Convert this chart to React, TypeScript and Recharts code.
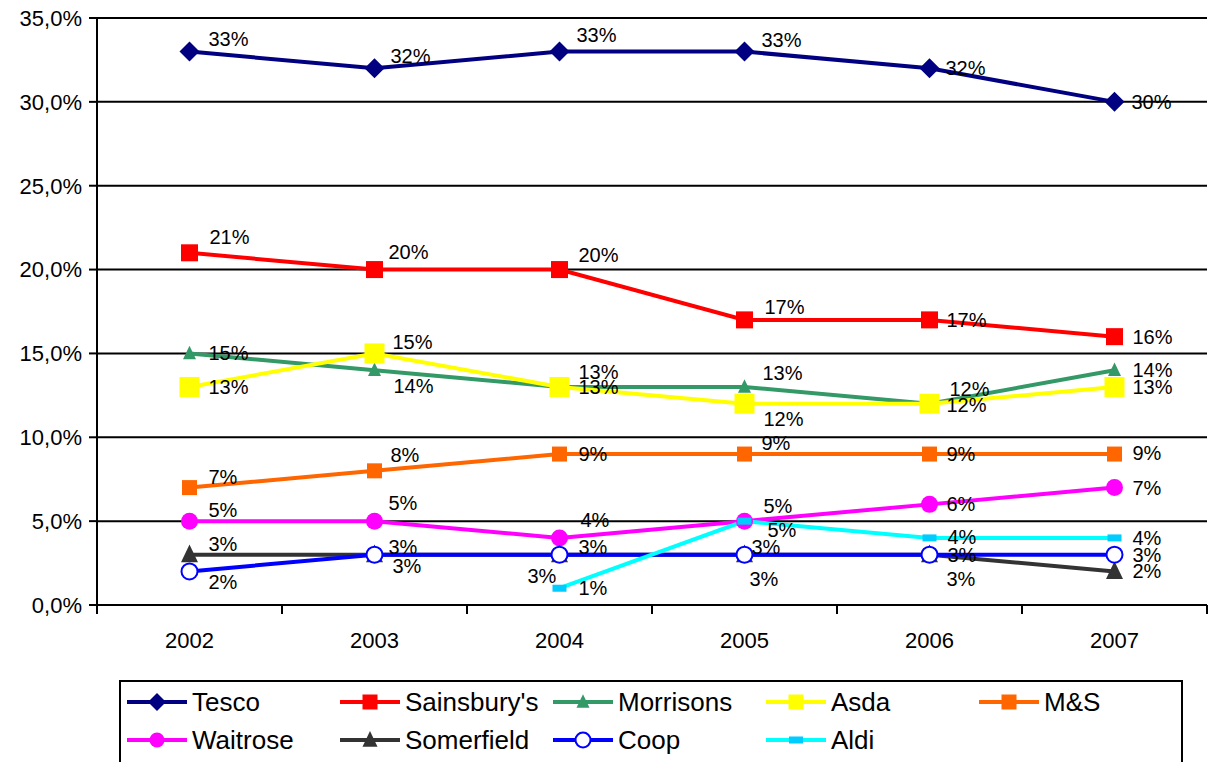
import React from "react"
import { CartesianGrid, LabelList, Line, LineChart, XAxis, YAxis } from "recharts"

const years = ["2002", "2003", "2004", "2005", "2006", "2007"]
const tesco = [33, 32, 33, 33, 32, 30]
const sainsburys = [21, 20, 20, 17, 17, 16]
const morrisons = [15, 14, 13, 13, 12, 14]
const asda = [13, 15, 13, 12, 12, 13]
const marksSpencer = [7, 8, 9, 9, 9, 9]
const waitrose = [5, 5, 4, 5, 6, 7]
const somerfield = [3, 3, 3, 3, 3, 2]
const coop = [2, 3, 3, 3, 3, 3]
const aldi = [null, null, 1, 5, 4, 4]
const yTicks = [0, 5, 10, 15, 20, 25, 30, 35]

const data = years.map((year, i) => ({
    year,
    tesco: tesco[i],
    sainsburys: sainsburys[i],
    morrisons: morrisons[i],
    asda: asda[i],
    ms: marksSpencer[i],
    waitrose: waitrose[i],
    somerfield: somerfield[i],
    coop: coop[i],
    aldi: aldi[i],
}))

type Shape = "diamond" | "square" | "triangle" | "circle" | "ring" | "dash"

interface SeriesDef {
    key: string
    name: string
    color: string
    marker: Shape
    markerColor: string
    size: number
}

const series: SeriesDef[] = [
    { key: "tesco", name: "Tesco", color: "#000080", marker: "diamond", markerColor: "#000080", size: 10 },
    { key: "sainsburys", name: "Sainsbury's", color: "#FF0000", marker: "square", markerColor: "#FF0000", size: 17 },
    { key: "morrisons", name: "Morrisons", color: "#339966", marker: "triangle", markerColor: "#339966", size: 13 },
    { key: "asda", name: "Asda", color: "#FFFF00", marker: "square", markerColor: "#FFFF00", size: 20 },
    { key: "ms", name: "M&S", color: "#FF6600", marker: "square", markerColor: "#FF6600", size: 15 },
    { key: "waitrose", name: "Waitrose", color: "#FF00FF", marker: "circle", markerColor: "#FF00FF", size: 8.5 },
    { key: "somerfield", name: "Somerfield", color: "#333333", marker: "triangle", markerColor: "#333333", size: 17 },
    { key: "coop", name: "Coop", color: "#0000FF", marker: "ring", markerColor: "#0000FF", size: 8 },
    { key: "aldi", name: "Aldi", color: "#00FFFF", marker: "dash", markerColor: "#00CCFF", size: 14 },
]

// label offsets [dx, dy] from each point, as placed in the original
const labelOffsets: Record<string, ([number, number] | null)[]> = {
    tesco: [[19, -13], [16, -12], [17, -17], [17, -12], [16, 0], [17, 0]],
    sainsburys: [[20, -16], [14, -18], [19, -15], [20, -13], [17, 0], [18, 0]],
    morrisons: [[19, 0], [19, 16], [19, -15], [18, -14], [20, -15], [18, 0]],
    asda: [[19, 0], [18, -11], [19, 0], [19, 15], [17, 1], [18, 0]],
    ms: [[19, -11], [16, -16], [19, 0], [17, -11], [17, 0], [18, -1]],
    waitrose: [[19, -11], [14, -18], [21, -18], [19, -15], [17, 0], [18, 0]],
    somerfield: [[19, -11], [18, 11], [-32, 21], [5, 24], [17, 24], [18, 0]],
    coop: [[19, 11], [14, -8], [19, -8], [7, -8], [18, 0], [18, 0]],
    aldi: [null, null, [19, 0], [23, 9], [18, -1], [18, 0]],
}

const FONT = '"Liberation Sans", Arial, sans-serif'
const PLOT_LEFT = 97
const PLOT_RIGHT = 1207
const PLOT_BOTTOM = 605
const BAND = (PLOT_RIGHT - PLOT_LEFT) / years.length

function Marker({ shape, cx, cy, color, size }: { shape: Shape; cx: number; cy: number; color: string; size: number }) {
    switch (shape) {
        case "diamond":
            return <polygon points={`${cx},${cy - size} ${cx + size},${cy} ${cx},${cy + size} ${cx - size},${cy}`} fill={color} />
        case "square":
            return <rect x={cx - size / 2} y={cy - size / 2} width={size} height={size} fill={color} />
        case "triangle":
            return <polygon points={`${cx},${cy - size * 0.6} ${cx + size * 0.5},${cy + size * 0.45} ${cx - size * 0.5},${cy + size * 0.45}`} fill={color} />
        case "circle":
            return <circle cx={cx} cy={cy} r={size} fill={color} />
        case "ring":
            return <circle cx={cx} cy={cy} r={size} fill="#fff" stroke={color} strokeWidth={2} />
        case "dash":
            return <rect x={cx - size / 2} y={cy - 3.5} width={size} height={7} fill={color} />
    }
}

function makeDot(s: SeriesDef) {
    return (props: any) => {
        const { cx, cy, value, index } = props
        if (value == null || cx == null || cy == null) return <g key={`${s.key}-dot-${index}`} />
        return (
            <g key={`${s.key}-dot-${index}`}>
                <Marker shape={s.marker} cx={cx} cy={cy} color={s.markerColor} size={s.size} />
            </g>
        )
    }
}

function makeLabel(s: SeriesDef) {
    return (props: any) => {
        const { x, y, value, index } = props
        const off = labelOffsets[s.key][index]
        if (value == null || off == null) return null
        return (
            <text
                x={x + off[0]}
                y={y + off[1]}
                dominantBaseline="central"
                fontSize={20}
                fontFamily={FONT}
                fill="#000"
            >
                {`${value}%`}
            </text>
        )
    }
}

function YearTick(props: any) {
    const { x, payload, index } = props
    const left = x - BAND / 2
    return (
        <g>
            <line x1={left} x2={left} y1={PLOT_BOTTOM} y2={PLOT_BOTTOM + 9} stroke="#000" strokeWidth={2} />
            {index === years.length - 1 && (
                <line x1={x + BAND / 2} x2={x + BAND / 2} y1={PLOT_BOTTOM} y2={PLOT_BOTTOM + 9} stroke="#000" strokeWidth={2} />
            )}
            <text x={x} y={PLOT_BOTTOM + 35} textAnchor="middle" dominantBaseline="central" fontSize={22} fontFamily={FONT} fill="#000">
                {payload.value}
            </text>
        </g>
    )
}

function LegendBox() {
    return (
        <div
            style={{
                position: "absolute",
                left: 119,
                top: 680,
                width: 1064,
                height: 100,
                border: "2px solid #000",
                background: "#fff",
                boxSizing: "border-box",
            }}
        >
            {series.map((s, i) => {
                const col = i % 5
                const row = Math.floor(i / 5)
                return (
                    <div
                        key={s.key}
                        style={{
                            position: "absolute",
                            left: 5 + col * 213,
                            top: 6 + row * 38,
                            height: 28,
                            display: "flex",
                            alignItems: "center",
                            fontFamily: FONT,
                            fontSize: 26,
                            color: "#000",
                            whiteSpace: "nowrap",
                        }}
                    >
                        <svg width={62} height={28} style={{ display: "block" }}>
                            <line x1={1} x2={61} y1={14} y2={14} stroke={s.color} strokeWidth={4} />
                            <Marker
                                shape={s.marker}
                                cx={31}
                                cy={14}
                                color={s.markerColor}
                                size={s.marker === "diamond" ? 9 : s.marker === "circle" || s.marker === "ring" ? 7.5 : Math.min(s.size, 15)}
                            />
                        </svg>
                        <span style={{ marginLeft: 4 }}>{s.name}</span>
                    </div>
                )
            })}
        </div>
    )
}

export default function App() {
    return (
        <div style={{ position: "absolute", left: 0, top: 0, width: 1212, height: 762, background: "#fff", overflow: "hidden" }}>
            <LineChart width={1212} height={680} data={data} margin={{ top: 18, right: 5, left: 0, bottom: 0 }}>
                <CartesianGrid horizontal vertical={false} stroke="#000" strokeWidth={2} />
                <XAxis
                    dataKey="year"
                    height={75}
                    padding={{ left: BAND / 2, right: BAND / 2 }}
                    axisLine={{ stroke: "#000", strokeWidth: 2 }}
                    tickLine={false}
                    tick={<YearTick />}
                    interval={0}
                />
                <YAxis
                    width={97}
                    domain={[0, 35]}
                    ticks={yTicks}
                    tickFormatter={(v: number) => `${v.toFixed(1).replace(".", ",")}%`}
                    axisLine={{ stroke: "#000", strokeWidth: 2 }}
                    tickLine={{ stroke: "#000", strokeWidth: 2 }}
                    tickSize={8}
                    tickMargin={7}
                    tick={{ fill: "#000", fontSize: 22, fontFamily: FONT }}
                />
                <YAxis yAxisId="right" orientation="right" width={0} domain={[0, 35]} tick={false} tickLine={false} axisLine={{ stroke: "#000", strokeWidth: 2 }} />
                {series.map((s) => (
                    <Line
                        key={s.key}
                        type="linear"
                        dataKey={s.key}
                        name={s.name}
                        stroke={s.color}
                        strokeWidth={4}
                        dot={makeDot(s)}
                        activeDot={false}
                        isAnimationActive={false}
                    >
                        <LabelList dataKey={s.key} content={makeLabel(s)} />
                    </Line>
                ))}
            </LineChart>
            <LegendBox />
        </div>
    )
}
